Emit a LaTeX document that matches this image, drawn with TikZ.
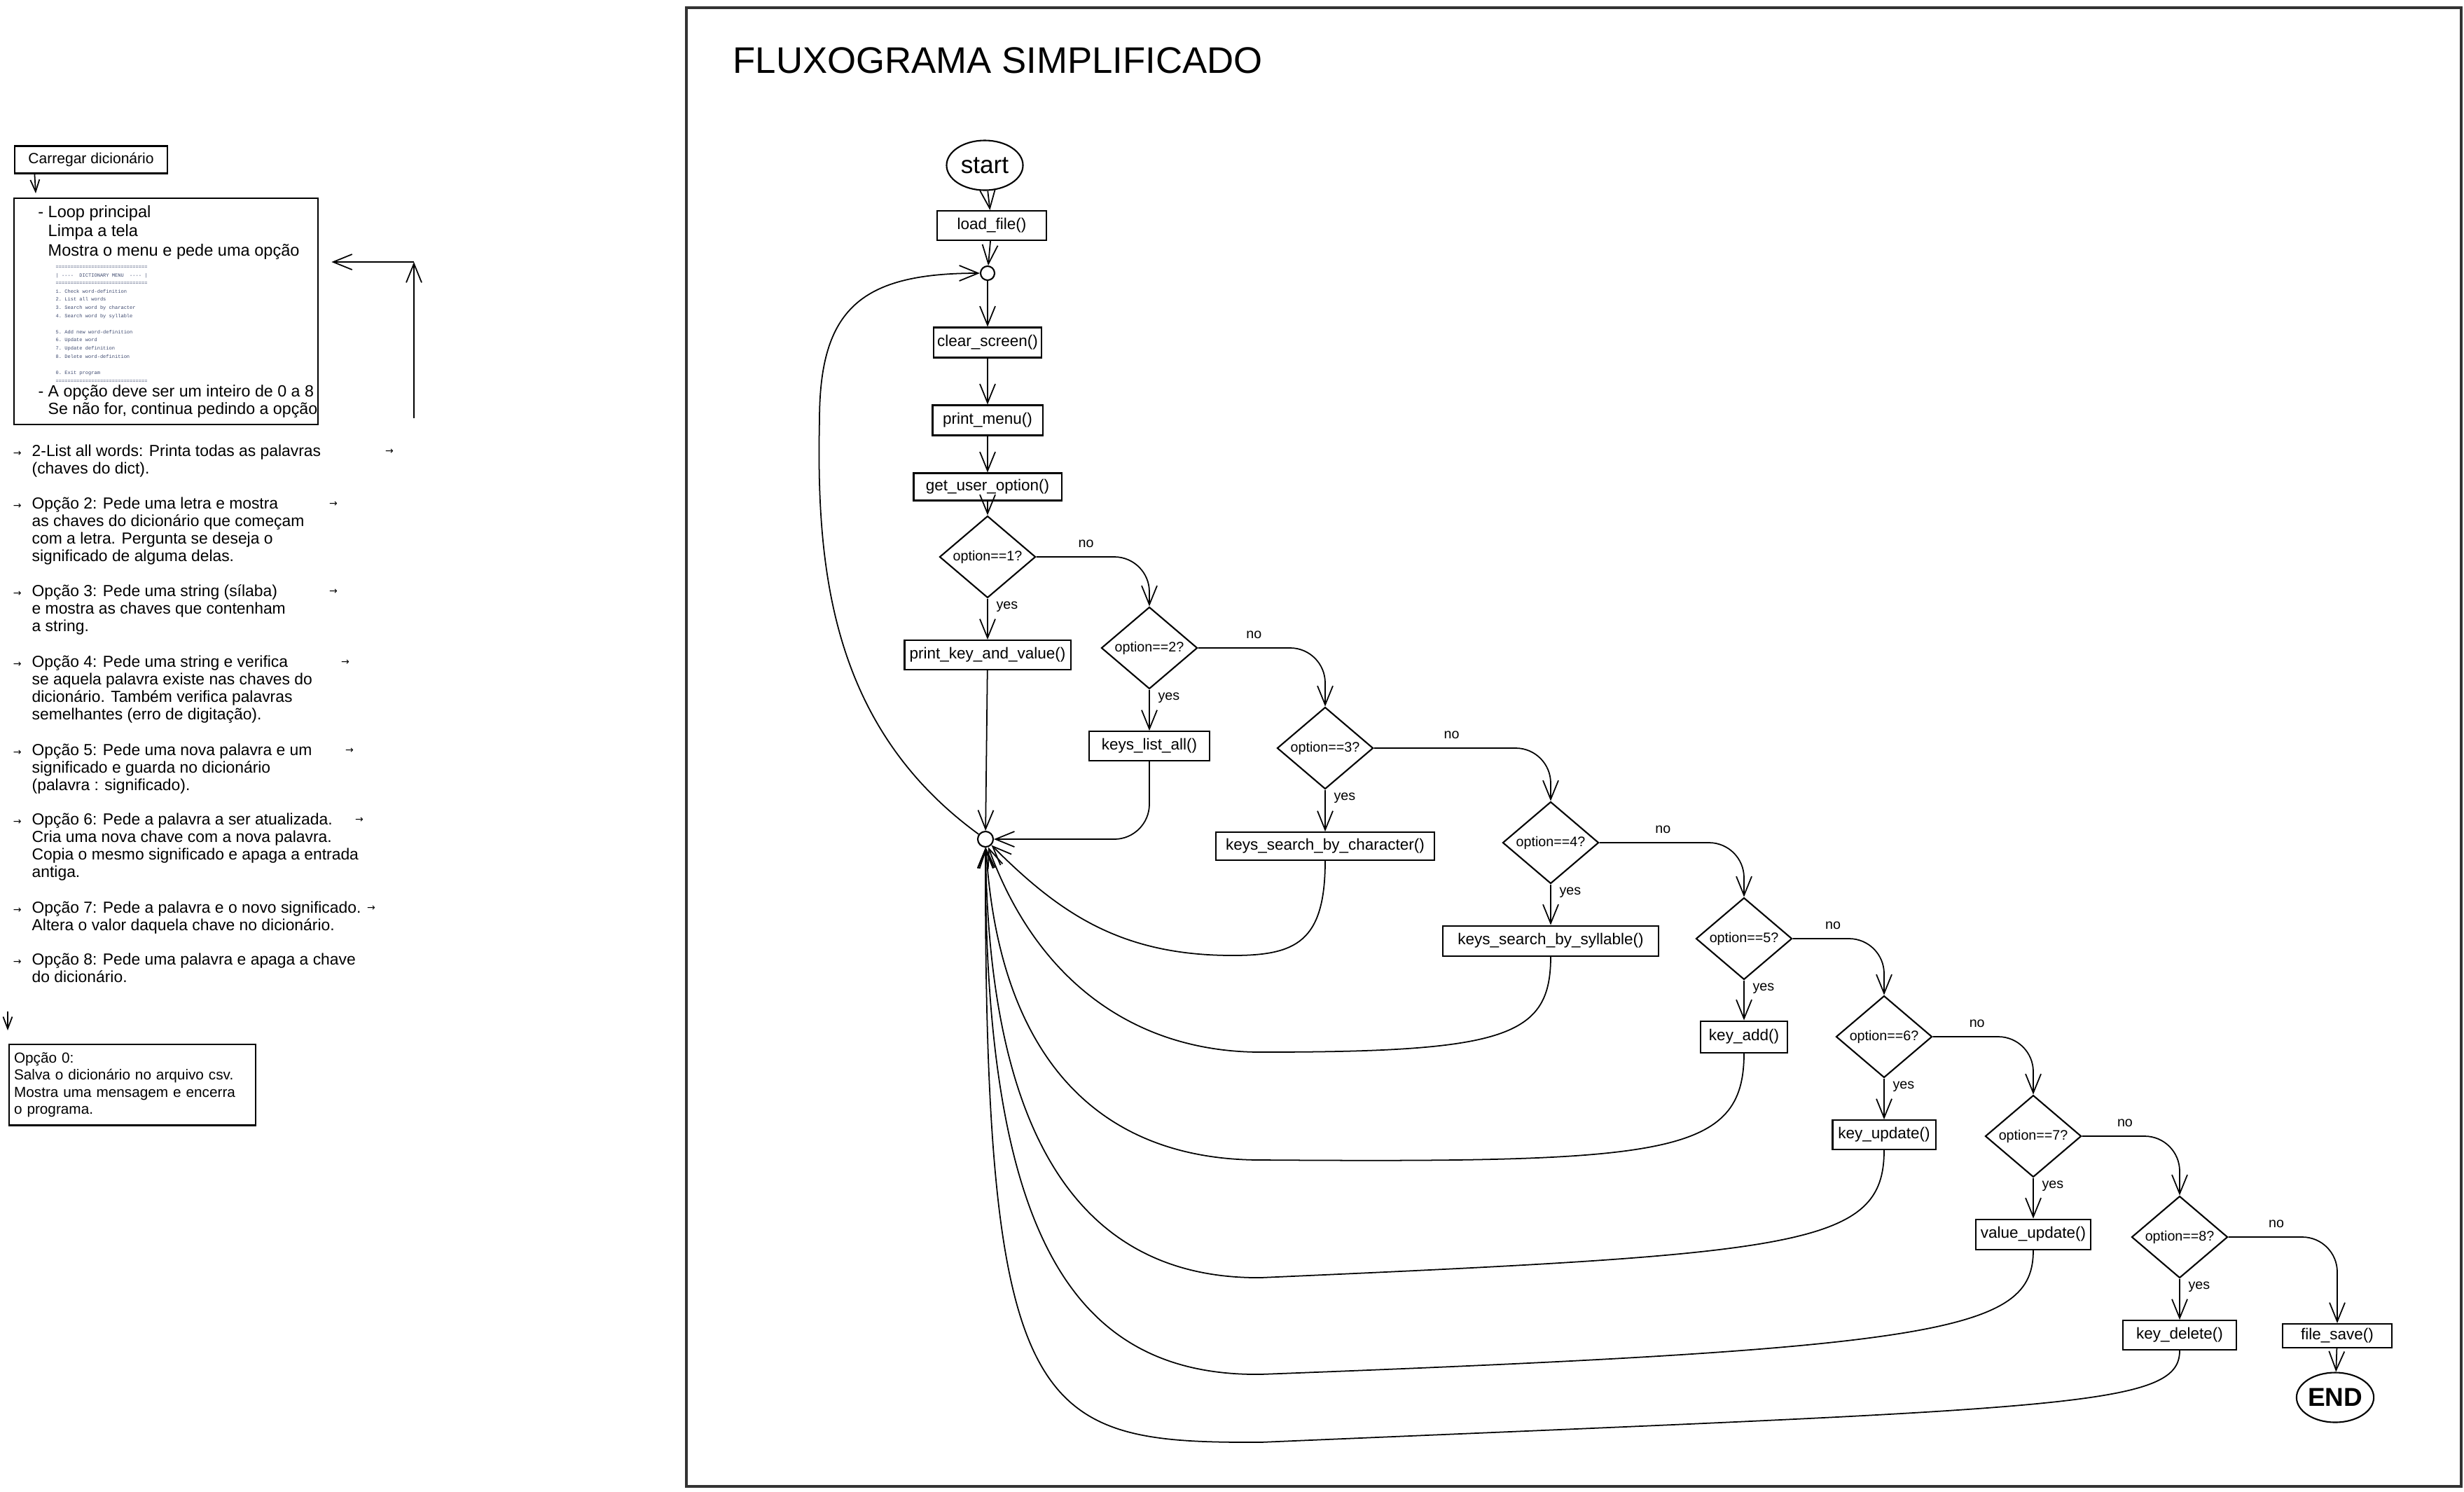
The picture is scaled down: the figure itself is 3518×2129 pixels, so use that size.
\documentclass[tikz,border=0pt]{standalone}
\usepackage{fontspec}
\setmainfont{Liberation Sans}
\newfontfamily\menufont{Liberation Mono}
\newfontfamily\arrowfont{DejaVu Sans}
\usetikzlibrary{positioning,shapes.geometric,arrows.meta}
\definecolor{menublue}{RGB}{60,72,110}
\newcommand{\smallarrow}{{\arrowfont\fontsize{4}{4}\selectfont →}}

\begin{document}
\begin{tikzpicture}[x=0.01cm, y=0.01cm, node distance=1.4cm]
    \tikzstyle{every node}=[font=\fontsize{6.4}{7}\selectfont, align=center]
    \tikzset{
        box/.style={draw, line width=0.6pt, minimum height=0.42cm, inner sep=1pt},
        dec/.style={draw, diamond, line width=0.6pt, minimum width=1.37cm, minimum height=0.9cm, inner sep=0pt, font=\fontsize{5.6}{6}\selectfont},
        junc/.style={draw, circle, line width=0.6pt, minimum size=0.2cm, inner sep=0pt},
        termnode/.style={draw, ellipse, line width=0.6pt, minimum width=1.09cm, minimum height=0.71cm, inner sep=0pt},
        arr/.style={-{Straight Barb[length=2.7mm, width=2.2mm]}, line width=0.5pt},
        sarr/.style={-{Straight Barb[length=1.7mm, width=1.3mm]}, line width=0.5pt},
        yesl/.style={at start, anchor=north west, inner sep=1pt, xshift=2.3pt, font=\fontsize{5.6}{6}\selectfont},
        nol/.style={pos=0.22, above=3pt, inner sep=0.5pt, font=\fontsize{5.6}{6}\selectfont},
        txt/.style={align=left, anchor=base west, inner sep=0pt, font=\fontsize{6.5}{7.1}\selectfont},
        arrglyph/.style={inner sep=0pt}
    }
    \useasboundingbox (0,0) rectangle (3518,-2129);

    %frame and title
    \draw[line width=0.9pt, black!80] (980,-11) rectangle (3514,-2122);
    \node (title) [anchor=base west, inner sep=0pt, font=\fontsize{15}{18}\selectfont] at (1046,-104) {FLUXOGRAMA SIMPLIFICADO};

    %main column
    \node (start) [termnode, font=\fontsize{10}{12}\selectfont] at (1406,-236) {start};
    \node (loadf) [box, minimum width=1.56cm] at (1416,-322) {load\_file()};
    \node (jtop) [junc] at (1410,-390) {};
    \node (clrs) [box, minimum width=1.54cm, minimum height=0.43cm] at (1410,-489) {clear\_screen()};
    \node (pmenu) [box, minimum width=1.57cm, minimum height=0.43cm] at (1410,-600) {print\_menu()};
    \node (guo) [box, minimum width=2.11cm, minimum height=0.39cm] at (1410,-695) {get\_user\_option()};

    %decisions
    \node (d1) [dec] at (1410,-795) {option==1?};
    \node (d2) [dec] at (1641,-925) {option==2?};
    \node (d3) [dec] at (1892,-1068) {option==3?};
    \node (d4) [dec] at (2214,-1203) {option==4?};
    \node (d5) [dec] at (2490,-1340) {option==5?};
    \node (d6) [dec] at (2690,-1480) {option==6?};
    \node (d7) [dec] at (2903,-1622) {option==7?};
    \node (d8) [dec] at (3112,-1766) {option==8?};

    %actions
    \node (pkv) [box, minimum width=2.37cm, below of=d1] {print\_key\_and\_value()};
    \node (kla) [box, minimum width=1.72cm, below of=d2] {keys\_list\_all()};
    \node (ksbc) [box, minimum width=3.11cm, minimum height=0.40cm, below of=d3] {keys\_search\_by\_character()};
    \node (ksbs) [box, minimum width=3.08cm, minimum height=0.43cm, below of=d4] {keys\_search\_by\_syllable()};
    \node (kadd) [box, minimum width=1.24cm, minimum height=0.45cm, below of=d5] {key\_add()};
    \node (kupd) [box, minimum width=1.47cm, below of=d6] {key\_update()};
    \node (vupd) [box, minimum width=1.64cm, minimum height=0.43cm, below of=d7] {value\_update()};
    \node (kdel) [box, minimum width=1.62cm, below of=d8] {key\_delete()};
    \node (fsave) [box, minimum width=1.56cm, minimum height=0.34cm] at (3337,-1907) {file\_save()};
    \node (endn) [termnode, minimum width=1.07cm, font=\bfseries\fontsize{10.5}{12}\selectfont] at (3334,-1995) {END};
    \node (jbot) [junc, minimum size=0.22cm] at (1407,-1198) {};

    \draw[arr] (start) -- (loadf);
    \draw[arr] (loadf) -- (jtop);
    \draw[arr] (jtop) -- (clrs);
    \draw[arr] (clrs) -- (pmenu);
    \draw[arr] (pmenu) -- (guo);
    \draw[arr] (guo) -- (d1);

    %yes
    \draw[arr] (d1.south) -- node[yesl] {yes} (pkv.north);
    \draw[arr] (d2.south) -- node[yesl] {yes} (kla.north);
    \draw[arr] (d3.south) -- node[yesl] {yes} (ksbc.north);
    \draw[arr] (d4.south) -- node[yesl] {yes} (ksbs.north);
    \draw[arr] (d5.south) -- node[yesl] {yes} (kadd.north);
    \draw[arr] (d6.south) -- node[yesl] {yes} (kupd.north);
    \draw[arr] (d7.south) -- node[yesl] {yes} (vupd.north);
    \draw[arr] (d8.south) -- node[yesl] {yes} (kdel.north);

    %no
    \draw[arr, rounded corners=5mm] (d1.east) -| node[nol] {no} (d2.north);
    \draw[arr, rounded corners=5mm] (d2.east) -| node[nol] {no} (d3.north);
    \draw[arr, rounded corners=5mm] (d3.east) -| node[nol] {no} (d4.north);
    \draw[arr, rounded corners=5mm] (d4.east) -| node[nol] {no} (d5.north);
    \draw[arr, rounded corners=5mm] (d5.east) -| node[nol] {no} (d6.north);
    \draw[arr, rounded corners=5mm] (d6.east) -| node[nol] {no} (d7.north);
    \draw[arr, rounded corners=5mm] (d7.east) -| node[nol] {no} (d8.north);
    \draw[arr, rounded corners=5mm] (d8.east) -| node[nol] {no} (fsave.north);
    \draw[arr] (fsave) -- (endn);

    %back to the loop
    \draw[arr] (pkv) -- (jbot);
    \draw[arr, rounded corners=5mm] (kla.south) |- (jbot.east);
    \draw[arr] (ksbc.south) .. controls (1892,-1345) and (1850,-1364) .. (1760,-1364) .. controls (1600,-1364) and (1513,-1304) .. (jbot);
    \draw[arr] (ksbs.south) .. controls (2214,-1480) and (2150,-1502) .. (1800,-1502) .. controls (1620,-1502) and (1480,-1400) .. (jbot);
    \draw[arr] (kadd.south) .. controls (2490,-1650) and (2380,-1660) .. (1800,-1656) .. controls (1560,-1656) and (1425,-1500) .. (jbot);
    \draw[arr] (kupd.south) .. controls (2690,-1780) and (2570,-1790) .. (1800,-1824) .. controls (1560,-1826) and (1412,-1650) .. (jbot);
    \draw[arr] (vupd.south) .. controls (2903,-1900) and (2780,-1925) .. (1800,-1962) .. controls (1530,-1965) and (1405,-1760) .. (jbot);
    \draw[arr] (kdel.south) .. controls (3112,-2010) and (2950,-2010) .. (1800,-2059) .. controls (1480,-2060) and (1405,-2030) .. (jbot);
    \draw[arr] (jbot) .. controls (1190,-1040) and (1165,-820) .. (1170,-600) .. controls (1170,-440) and (1230,-390) .. (jtop);

    %left notes
    \node (carr) [box, minimum width=2.17cm, minimum height=0.39cm, font=\fontsize{6}{7}\selectfont] at (130,-228) {Carregar dicionário};
    \node (loopbox) [draw, line width=0.6pt, anchor=north west, minimum width=4.34cm, minimum height=3.23cm, inner sep=0pt] at (19,-282) {};
    \draw[sarr] ([xshift=0.29cm]carr.south west) -- ([xshift=0.32cm, yshift=0.06cm]loopbox.north west);
    \node (looptxt) [txt, font=\fontsize{6.7}{7.7}\selectfont] at (68,-365) {\llap{- }Loop principal\\Limpa a tela\\Mostra o menu e pede uma opção};
    \node (menu) [txt, font=\menufont\fontsize{2}{3.3}\selectfont, text=menublue] at (79,-546) {
        ===============================\\
        |\ -{}-{}-{}-\ \ DICTIONARY\ MENU\ \ -{}-{}-{}-\ |\\
        ===============================\\
        1.\ Check word-definition\\
        2.\ List all words\\
        3.\ Search word by character\\
        4.\ Search word by syllable\\[3.3pt]
        5.\ Add new word-definition\\
        6.\ Update word\\
        7.\ Update definition\\
        8.\ Delete word-definition\\[3.3pt]
        0.\ Exit program\\
        ===============================};
    \node (looptxt2) [txt, font=\fontsize{6.6}{7.1}\selectfont] at (68,-591) {\llap{- }A opção deve ser um inteiro de 0 a 8\\Se não for, continua pedindo a opção};
    \coordinate (upbot) at (591,-597);
    \coordinate (uptop) at (591,-374);
    \draw[arr] (upbot) -- (uptop);
    \draw[arr, shorten >=0.18cm] (uptop) -- (loopbox.east |- uptop);

    %options
    \node (p1) [txt] at (45,-676) {\llap{\smallarrow\hspace{4.3pt}}2-List all words: Printa todas as palavras\\(chaves do dict).};
    \node (p1a) [arrglyph] at (556,-645) {\smallarrow};
    \node (p2) [txt] at (45,-801) {\llap{\smallarrow\hspace{4.3pt}}Opção 2: Pede uma letra e mostra\\as chaves do dicionário que começam\\com a letra. Pergunta se deseja o\\significado de alguma delas.};
    \node (p2a) [arrglyph] at (476,-720) {\smallarrow};
    \node (p3) [txt] at (45,-901) {\llap{\smallarrow\hspace{4.3pt}}Opção 3: Pede uma string (sílaba)\\e mostra as chaves que contenham\\a string.};
    \node (p3a) [arrglyph] at (476,-845) {\smallarrow};
    \node (p4) [txt] at (45,-1027) {\llap{\smallarrow\hspace{4.3pt}}Opção 4: Pede uma string e verifica\\se aquela palavra existe nas chaves do\\dicionário. Também verifica palavras\\semelhantes (erro de digitação).};
    \node (p4a) [arrglyph] at (493,-946) {\smallarrow};
    \node (p5) [txt] at (45,-1128) {\llap{\smallarrow\hspace{4.3pt}}Opção 5: Pede uma nova palavra e um\\significado e guarda no dicionário\\(palavra : significado).};
    \node (p5a) [arrglyph] at (499,-1072) {\smallarrow};
    \node (p6) [txt] at (45,-1252) {\llap{\smallarrow\hspace{4.3pt}}Opção 6: Pede a palavra a ser atualizada.\\Cria uma nova chave com a nova palavra.\\Copia o mesmo significado e apaga a entrada\\antiga.};
    \node (p6a) [arrglyph] at (513,-1171) {\smallarrow};
    \node (p7) [txt] at (45,-1328) {\llap{\smallarrow\hspace{4.3pt}}Opção 7: Pede a palavra e o novo significado.\\Altera o valor daquela chave no dicionário.};
    \node (p7a) [arrglyph] at (530,-1297) {\smallarrow};
    \node (p8) [txt] at (45,-1402) {\llap{\smallarrow\hspace{4.3pt}}Opção 8: Pede uma palavra e apaga a chave\\do dicionário.};

    %exit
    \coordinate (zarr) at (11,-1444);
    \node (opt0) [draw, line width=0.6pt, anchor=north west, text width=3.38cm, inner xsep=0.07cm, minimum height=1.15cm, align=left, font=\fontsize{5.9}{6.9}\selectfont] at (12,-1490) {Opção 0:\\Salva o dicionário no arquivo csv.\\Mostra uma mensagem e encerra\\o programa.};
    \draw[sarr, shorten >=0.19cm] (zarr) -- (zarr |- opt0.north);
\end{tikzpicture}
\end{document}
